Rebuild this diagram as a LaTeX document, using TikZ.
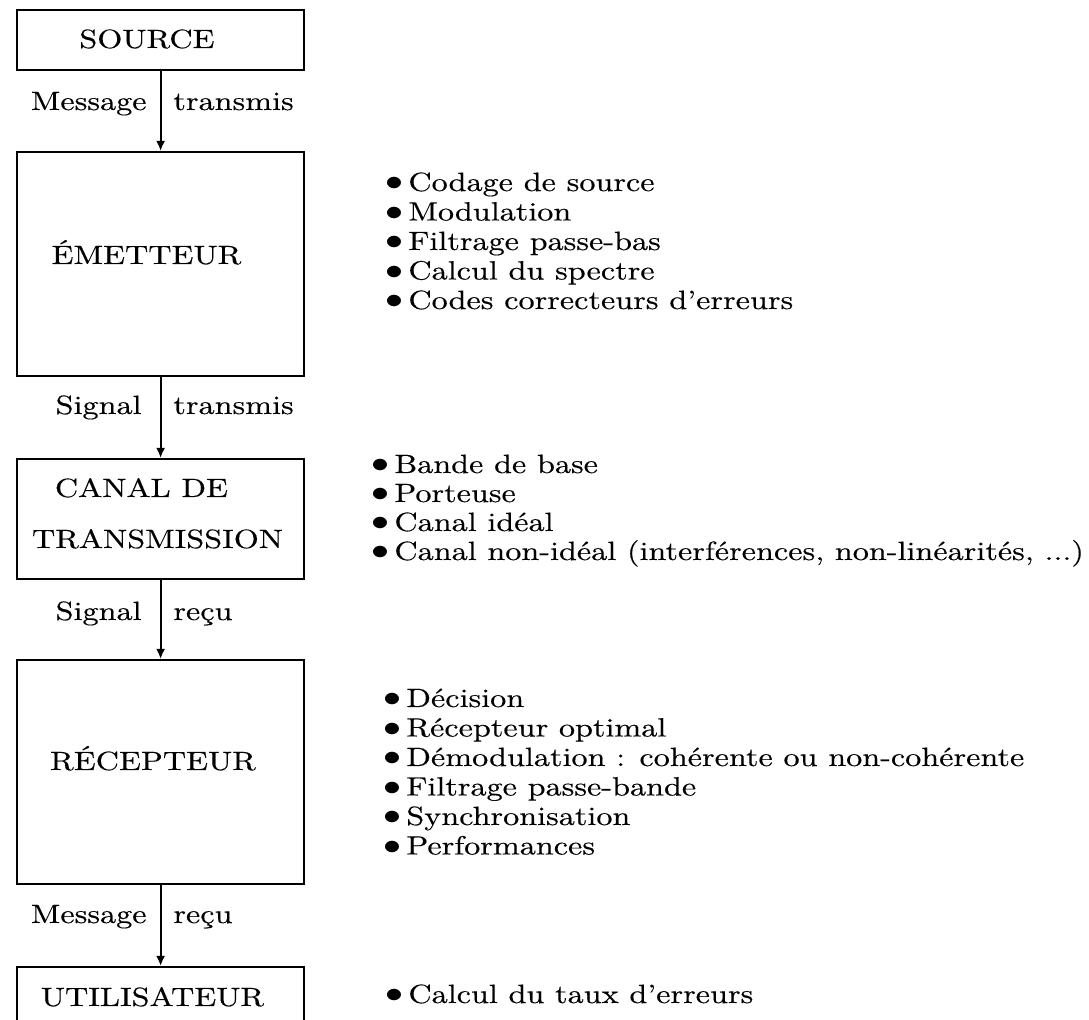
\documentclass[tikz,border=0pt]{standalone}
\usepackage{fontspec}
\setmainfont{lmroman10-regular.otf}[FakeStretch=1.22,FakeBold=0.3]
\usetikzlibrary{arrows.meta}
\begin{document}
\begin{tikzpicture}[x=0.5pt,y=-0.5pt,
  box/.style={draw,line width=1.1pt,inner sep=0,anchor=north west,minimum width=143.5pt},
  lbl/.style={inner sep=0,font=\fontsize{13.2}{15}\selectfont},
  itm/.style={lbl,anchor=base west},
  arr/.style={line width=1.1pt,-{Latex[length=5pt,width=4.5pt]}}]
\useasboundingbox (0,0) rectangle (1089,1020);
\fill[white] (0,0) rectangle (1089,1020);
\newcommand{\bul}{\makebox[11.5pt][l]{\scalebox{1.5}[1.25]{$\bullet$}}}
% boxes
\node[box,minimum height=30pt] (src) at (16,9) {};
\node[box,minimum height=112pt] (emt) at (16,151) {};
\node[box,minimum height=60pt] (can) at (16,458) {};
\node[box,minimum height=112pt] (rec) at (16,659) {};
\node[box,minimum height=30pt] (uti) at (16,966) {};
% box texts
\node[lbl,anchor=base] (srcT) at (147,48) {SOURCE};
\node[lbl,anchor=base] (emtT) at (146.5,264) {ÉMETTEUR};
\node[lbl,anchor=base] (canT1) at (141.5,497) {CANAL DE};
\node[lbl,anchor=base] (canT2) at (157.5,548) {TRANSMISSION};
\node[lbl,anchor=base] (recT) at (153,770) {RÉCEPTEUR};
\node[lbl,anchor=base] (utiT) at (152.5,1006) {UTILISATEUR};
% arrows
\draw[arr] (src.south) -- (emt.north);
\draw[arr] (emt.south) -- (can.north);
\draw[arr] (can.south) -- (rec.north);
\draw[arr] (rec.south) -- (uti.north);
% arrow labels
\node[lbl,anchor=base east] (a1l) at (147,110) {Message};
\node[lbl,anchor=base west] (a1r) at (173,110) {transmis};
\node[lbl,anchor=base east] (a2l) at (142,414) {Signal};
\node[lbl,anchor=base west] (a2r) at (173,414) {transmis};
\node[lbl,anchor=base east] (a3l) at (142,620) {Signal};
\node[lbl,anchor=base west] (a3r) at (173,620) {reçu};
\node[lbl,anchor=base east] (a4l) at (147,923) {Message};
\node[lbl,anchor=base west] (a4r) at (173,923) {reçu};
% lists
\foreach \t [count=\i] in {Codage de source, Modulation, Filtrage passe-bas, Calcul du spectre, Codes correcteurs d'erreurs}
  \node[itm] (emL\i) at (385,{191+29.5*(\i-1)}) {\bul\t};
\node[itm] (caL1) at (371,473) {\bul Bande de base};
\node[itm] (caL2) at (371,502) {\bul Porteuse};
\node[itm] (caL3) at (371,531) {\bul Canal idéal};
\node[itm] (caL4) at (371,560) {\bul Canal non-idéal (interférences, non-linéarités, ...)};
\foreach \t [count=\i] in {Décision, Récepteur optimal, Démodulation : cohérente ou non-cohérente, Filtrage passe-bande, Synchronisation, Performances}
  \node[itm] (reL\i) at (383,{707+29.5*(\i-1)}) {\bul\t};
\node[itm] (utL1) at (385,1003) {\bul Calcul du taux d'erreurs};
\end{tikzpicture}
\end{document}
